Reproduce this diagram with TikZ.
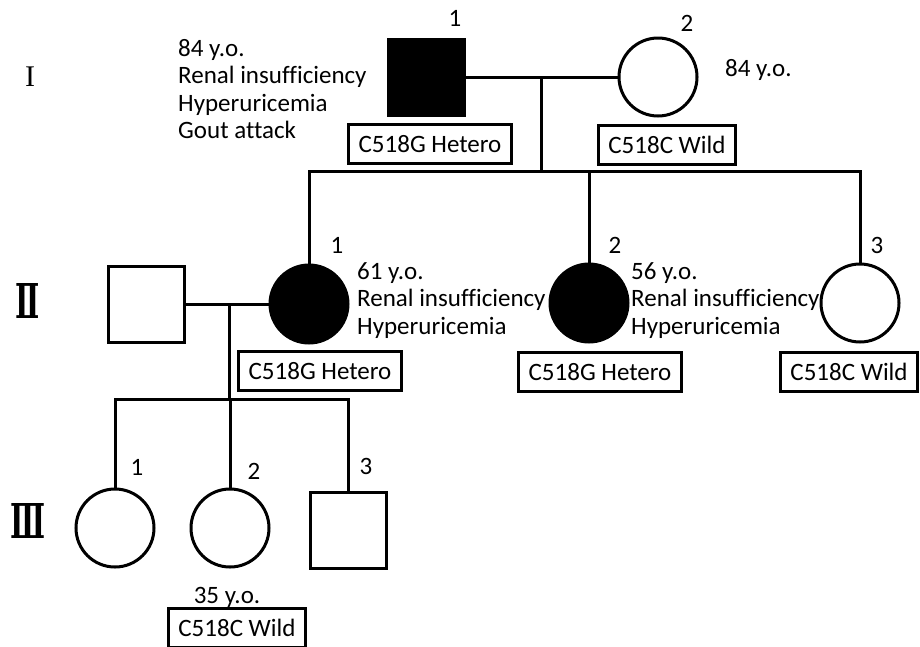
\documentclass[tikz,border=0pt]{standalone}
\usepackage{fontspec}
\setmainfont{Carlito}[Ligatures=NoCommon]
\newfontfamily\romfont{DejaVu Serif}
\newfontfamily\latromfont{Liberation Serif}
\usetikzlibrary{positioning}

\tikzset{
  male/.style={draw, line width=3pt, minimum size=76pt, inner sep=0pt},
  female/.style={circle, draw, line width=3pt, minimum size=78pt, inner sep=0pt},
  affected/.style={fill=black},
  geno/.style={draw, line width=2.8pt, minimum height=39pt, inner xsep=10pt,
    font=\fontsize{25}{27}\selectfont},
  info/.style={align=left, anchor=north west, inner sep=0pt,
    font=\fontsize{25}{27.5}\selectfont},
  num/.style={font=\fontsize{25}{27}\selectfont, inner sep=0pt},
  gen/.style={inner sep=0pt, font=\romfont\bfseries\fontsize{48}{48}\selectfont},
  link/.style={line width=3pt}
}

\begin{document}
\begin{tikzpicture}[x=1pt, y=-1pt]
    \useasboundingbox (0,0) rectangle (920,646);

    % generation labels
    \node[gen, font=\latromfont\fontsize{30}{30}\selectfont] (gI) at (30,77) {I};
    \node[gen] (gII) at (28,301) {\scalebox{0.6}[1]{Ⅱ}};
    \node[gen] (gIII) at (28,521) {\scalebox{0.6}[1]{Ⅲ}};

    % generation I
    \node[male, affected] (I1) at (426,77) {};
    \node[female] (I2) at (658,77) {};
    \node[num] (nI1) at (455,18) {1};
    \node[num] (nI2) at (687,23) {2};
    \node[info] (tI1) at (178,39) {84 y.o.\\Renal insufficiency\\Hyperuricemia\\Gout attack};
    \node[info] (tI2) at (725,59) {84 y.o.};
    \node[geno] (gtI1) at (430,144) {C518G Hetero};
    \node[geno] (gtI2) at (667,145) {C518C Wild};
    \draw[link] (I1) -- (I2);
    \coordinate (mI) at (541,77);
    \coordinate (sI) at (541,171);
    \draw[link] (mI) -- (sI);

    % generation II
    \node[male] (IIsp) at (146,304) {};
    \node[female, affected] (II1) at (309,304) {};
    \node[female, affected] (II2) at (589,303) {};
    \node[female] (II3) at (860,303) {};
    \node[num] (nII1) at (337,245) {1};
    \node[num] (nII2) at (615,245) {2};
    \node[num] (nII3) at (877,245) {3};
    \node[info] (tII1) at (357,262) {61 y.o.\\Renal insufficiency\\Hyperuricemia};
    \node[info] (tII2) at (631,262) {56 y.o.\\Renal insufficiency\\Hyperuricemia};
    \node[geno] (gtII1) at (320,371) {C518G Hetero};
    \node[geno] (gtII2) at (600,372) {C518G Hetero};
    \node[geno] (gtII3) at (849,372) {C518C Wild};
    \draw[link] (II1.north) -- (II1.north |- sI) -- (II3.north |- sI) -- (II3.north);
    \draw[link] (II2.north) -- (II2.north |- sI);
    \draw[link] (IIsp) -- (II1);
    \coordinate (mII) at (229,304);
    \coordinate (sII) at (229,399);
    \draw[link] (mII) -- (sII);

    % generation III
    \node[female] (III1) at (115,528) {};
    \node[female] (III2) at (230,528) {};
    \node[male] (III3) at (348,530) {};
    \node[num] (nIII1) at (137,467) {1};
    \node[num] (nIII2) at (254,471) {2};
    \node[num] (nIII3) at (366,466) {3};
    \node[num] (tIII2) at (227,597) {35 y.o.};
    \node[geno] (gtIII2) at (237,628) {C518C Wild};
    \draw[link] (III1.north) -- (III1.north |- sII) -- (III3.north |- sII) -- (III3.north);
    \draw[link] (III2.north) -- (III2.north |- sII);
\end{tikzpicture}
\end{document}
